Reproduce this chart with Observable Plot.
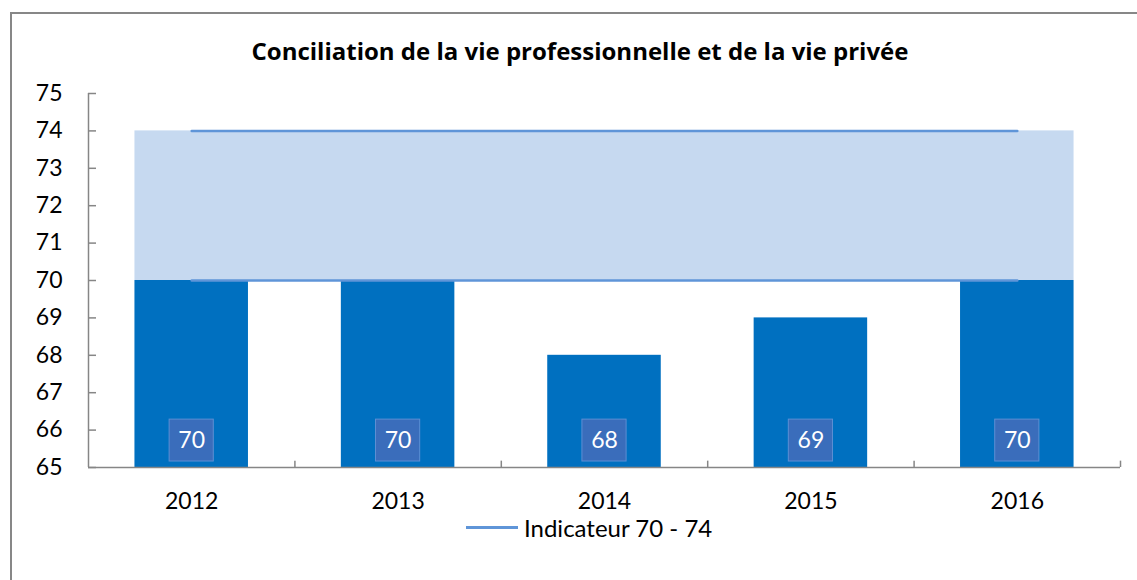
<!DOCTYPE html>
<html>
<head>
<meta charset="utf-8">
<script src="https://cdn.jsdelivr.net/npm/d3@7"></script>
<script src="https://cdn.jsdelivr.net/npm/@observablehq/plot@0.6"></script>
<style>
  html, body { margin: 0; padding: 0; background: #fff; }
  body { width: 1137px; height: 580px; position: relative; overflow: hidden; font-family: Lato, "Open Sans", sans-serif; }
  #frame { position: absolute; left: 10px; top: 12px; width: 1160px; height: 620px; border: 2px solid #878787; box-sizing: border-box; }
  #title { position: absolute; left: 0; width: 1160px; top: 38px; text-align: center; font-family: "Open Sans", sans-serif; font-weight: bold; font-size: 24px; line-height: 26px; color: #000; }
  #chart { position: absolute; left: 0; top: 0; }
  #legend { position: absolute; top: 513px; left: 466px; display: flex; align-items: center; font-size: 24px; color: #000; }
  #legend .sw { width: 52px; height: 3px; background: #5f95d8; margin-right: 6px; }
</style>
</head>
<body>
<div id="frame"></div>
<div id="chart"></div>
<div id="title">Conciliation de la vie professionnelle et de la vie privée</div>
<div id="legend"><span class="sw"></span><span id="legendText"></span></div>
<script>
const years = ["2012", "2013", "2014", "2015", "2016"];
const values = [70, 70, 68, 69, 70];
const indicatorLow = 70;
const indicatorHigh = 74;
const indicatorLabel = "Indicateur 70 - 74";
const yTicks = [65, 66, 67, 68, 69, 70, 71, 72, 73, 74, 75];

document.getElementById("legendText").textContent = indicatorLabel;

const data = years.map((year, i) => ({i, year, value: values[i]}));
const half = 0.275;      // half bar width in category units
const boxHalf = 0.107;   // half label-box width
const yMin = yTicks[0], yMax = yTicks[yTicks.length - 1];
const n = years.length;
const bounds = d3.range(1, n).map(k => k - 0.5).concat([n - 0.5]);

const chart = Plot.plot({
  width: 1137,
  height: 580,
  marginLeft: 88,
  marginRight: 17,
  marginTop: 93,
  marginBottom: 113,
  style: {background: "transparent", fontFamily: "Lato, 'Open Sans', sans-serif", color: "#000"},
  x: {domain: [-0.5, n - 0.5]},
  y: {domain: [yMin, yMax]},
  marks: [
    Plot.rect([{lo: indicatorLow, hi: indicatorHigh}], {x1: -half, x2: n - 1 + half, y1: "lo", y2: "hi", fill: "#c6d9f0"}),
    Plot.rect(data, {x1: d => d.i - half, x2: d => d.i + half, y1: yMin, y2: "value", fill: "#0070c0"}),
    Plot.lineY(data, {x: "i", y: () => indicatorHigh, stroke: "#5f95d8", strokeWidth: 2.5}),
    Plot.lineY(data, {x: "i", y: () => indicatorLow, stroke: "#5f95d8", strokeWidth: 2.5}),
    Plot.rect(data, {x1: d => d.i - boxHalf, x2: d => d.i + boxHalf, y1: 65.16, y2: 66.28, fill: "#3a6dbb", stroke: "#5d8fd3", strokeWidth: 1, ariaLabel: "labelbox"}),
    Plot.text(data, {x: "i", y: 65.72, text: d => String(d.value), fill: "white", fontSize: 23}),
    // axis lines
    Plot.ruleX([-0.5], {y1: yMin, y2: yMax, stroke: "#868686", strokeWidth: 1.5}),
    Plot.ruleY([yMin], {x1: -0.5, x2: n - 0.5, stroke: "#868686", strokeWidth: 1.5}),
    // inward tick marks
    Plot.ruleY(yTicks, {y: d => d, x1: -0.5, x2: -0.5 + 8 / 206.2, stroke: "#868686", strokeWidth: 1.5}),
    Plot.ruleX(bounds, {x: d => d, y1: yMin, y2: yMin + 0.17, stroke: "#868686", strokeWidth: 1.5}),
    Plot.axisY({ticks: yTicks, tickSize: 0, tickPadding: 26, tickFormat: d => String(d), fontSize: 23, label: null}),
    Plot.axisX({ticks: d3.range(n), tickSize: 0, tickPadding: 25, tickFormat: i => years[i], fontSize: 23, label: null})
  ]
});

const svg = d3.select(chart);
const defs = svg.insert("defs", ":first-child");
const lg = defs.append("linearGradient").attr("id", "boxGrad").attr("x1", 0).attr("y1", 0).attr("x2", 0).attr("y2", 1);
lg.append("stop").attr("offset", "0%").attr("stop-color", "#4c82cf");
lg.append("stop").attr("offset", "100%").attr("stop-color", "#2a58a3");
const f = defs.append("filter").attr("id", "shadow").attr("x", "-30%").attr("y", "-30%").attr("width", "160%").attr("height", "160%");
f.append("feDropShadow").attr("dx", 1).attr("dy", 2).attr("stdDeviation", 2).attr("flood-color", "#001a40").attr("flood-opacity", 0.5);
svg.selectAll('g[aria-label="labelbox"]').attr("fill", "url(#boxGrad)").attr("filter", "url(#shadow)");
svg.selectAll('g[aria-label="labelbox"] rect').attr("fill", "url(#boxGrad)");
document.getElementById("chart").appendChild(chart);
</script>
</body>
</html>
